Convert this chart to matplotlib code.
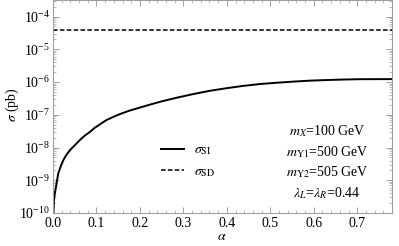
import matplotlib
matplotlib.use("Agg")
import matplotlib.pyplot as plt
from matplotlib.ticker import LogLocator, MultipleLocator, LogFormatterMathtext, NullFormatter, FormatStrFormatter

plt.rcParams['font.family'] = ['Liberation Serif', 'DejaVu Serif']
plt.rcParams['mathtext.fontset'] = 'stix'

alpha = [0.0005, 0.0023, 0.0045, 0.0069, 0.012, 0.017, 0.024, 0.031, 0.039, 0.05,
         0.062, 0.073, 0.085, 0.096, 0.108, 0.123, 0.138, 0.154, 0.177, 0.2, 0.223,
         0.25, 0.284, 0.323, 0.361, 0.40, 0.437, 0.477, 0.514, 0.553, 0.59,
         0.63, 0.667, 0.706, 0.786]
sigma_si = [6.3e-11, 2.5e-10, 4.2e-10, 6.3e-10, 1.6e-9, 2.5e-9, 4.2e-9, 6.0e-9, 8.3e-9, 1.17e-8,
            1.7e-8, 2.3e-8, 3.0e-8, 4.0e-8, 5.1e-8, 6.9e-8, 8.5e-8, 1.05e-7, 1.35e-7, 1.66e-7, 2.04e-7,
            2.57e-7, 3.3e-7, 4.3e-7, 5.4e-7, 6.5e-7, 7.6e-7, 8.7e-7, 9.5e-7, 1.03e-6, 1.10e-6,
            1.15e-6, 1.19e-6, 1.22e-6, 1.23e-6]
alpha_sd = [0.0, 0.786]
sigma_sd = [4.0e-5, 4.0e-5]

W, H = 399, 246
fig = plt.figure(figsize=(W/100, H/100), dpi=100)
ax = fig.add_axes([53/W, 1-213/H, (392-53)/W, 213/H])

ax.plot(alpha, sigma_si, color='black', lw=1.4, label=r'$\sigma_{\mathrm{SI}}$',
        solid_joinstyle='round')
ax.plot(alpha_sd, sigma_sd, color='black', lw=1.1, ls=(0, (3, 1.5)), label=r'$\sigma_{\mathrm{SD}}$')

ax.set_yscale('log')
ax.set_xlim(0, 0.78)
ax.set_ylim(1e-10, 3.2e-4)

ax.xaxis.set_major_locator(MultipleLocator(0.1))
ax.xaxis.set_minor_locator(MultipleLocator(0.02))
ax.xaxis.set_major_formatter(FormatStrFormatter('%.1f'))
ax.yaxis.set_major_locator(LogLocator(base=10, numticks=20))
ax.yaxis.set_minor_locator(LogLocator(base=10, subs=range(2, 10), numticks=100))
ax.yaxis.set_major_formatter(LogFormatterMathtext())
ax.yaxis.set_minor_formatter(NullFormatter())

fc = '#a0a0a0'
for s in ax.spines.values():
    s.set_color(fc)
    s.set_linewidth(0.8)
ax.tick_params(which='both', direction='in', top=True, right=True, color=fc, labelsize=10, pad=2)
ax.tick_params(axis='x', which='major', pad=3)
ax.tick_params(which='major', length=4, width=0.7)
ax.tick_params(which='minor', length=2, width=0.5)

ax.set_xlabel(r'$\alpha$', fontsize=10, va='center')
ax.set_ylabel(r'$\sigma$ (pb)', fontsize=10, va='center')
ax.xaxis.set_label_coords((222-53)/339, (213-236)/213)
ax.yaxis.set_label_coords((12-53)/339, 1-105/213)

leg = ax.legend(loc='center', bbox_to_anchor=((188-53)/339, 1-161/213), frameon=False,
                fontsize=10, handlelength=1.7, handletextpad=0.7, labelspacing=0.55)

tx = (327-53)/339
for ypix, s in [(131, r'$m_X$=100 GeV'), (152, r'$m_{\mathrm{Y1}}$=500 GeV'),
                (172, r'$m_{\mathrm{Y2}}$=505 GeV'), (193, r'$\lambda_L$=$\lambda_R$=0.44')]:
    ax.text(tx, 1-ypix/213, s, transform=ax.transAxes, ha='center', va='center', fontsize=10)

fig.savefig('out.png', dpi=100)
